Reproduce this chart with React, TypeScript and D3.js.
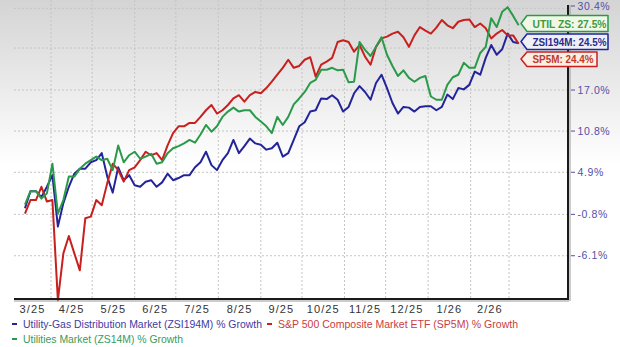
import React from 'react';
import * as d3 from 'd3';

// sampling of the series: every 4 calendar days from this start date
const START_DATE = new Date(2025, 2, 13);
const STEP_DAYS = 4;

const gasUtility = [
  0.0, 2.3, 2.3, 1.5, 2.9, 4.5, -2.4, 0.7, 2.9, 4.7, 5.4, 5.4, 6.3, 6.6, 7.6, 4.3,
  2.1, 5.6, 3.8, 4.5, 3.1, 2.9, 3.6, 3.8, 2.9, 3.5, 4.7, 3.8, 4.1, 4.5, 4.5, 5.6,
  6.3, 7.8, 5.9, 5.2, 6.6, 7.6, 9.5, 7.6, 8.6, 9.7, 9.0, 8.8, 8.1, 8.3, 9.1, 7.1,
  7.6, 9.5, 11.5, 12.1, 13.7, 13.9, 15.7, 15.6, 16.2, 15.5, 13.7, 14.4, 16.5, 17.6, 16.7, 15.5,
  18.1, 19.4, 17.3, 15.0, 13.4, 14.4, 14.3, 13.7, 14.4, 14.5, 14.5, 13.9, 14.4, 16.3, 15.6, 17.3,
  17.1, 17.8, 19.9, 19.4, 22.1, 24.2, 22.6, 23.5, 26.1, 24.7, 24.5,
];

const sp500 = [
  -0.7, 1.1, 1.1, 2.9, 0.9, 1.1, -11.5, -5.8, -3.6, -5.8, -7.9, -1.3, -1.1, 1.1, 0.4, 3.4,
  6.1, 5.2, 3.6, 5.2, 5.6, 6.6, 7.8, 7.3, 7.6, 6.6, 8.7, 10.5, 11.5, 11.5, 12.0, 12.0,
  12.9, 13.9, 14.7, 13.4, 13.9, 14.7, 15.7, 16.2, 15.2, 16.2, 16.7, 16.5, 17.3, 18.3, 19.4, 20.5,
  21.8, 20.5, 20.8, 21.8, 22.2, 19.1, 21.0, 21.5, 22.1, 24.7, 25.0, 24.7, 23.1, 24.2, 22.3, 21.0,
  23.9, 25.3, 25.6, 26.1, 26.4, 25.5, 23.9, 25.8, 27.2, 26.6, 26.1, 27.1, 28.4, 27.5, 27.0, 28.1,
  28.4, 28.5, 27.2, 27.8, 27.0, 25.3, 26.1, 26.7, 25.8, 25.8, 24.4,
];

const utilities = [
  0.5, 2.3, 2.3, 1.3, 2.0, 6.1, -0.7, 1.1, 4.3, 4.3, 5.4, 6.1, 6.6, 7.1, 6.6, 6.8,
  5.2, 8.7, 6.3, 7.3, 7.8, 6.8, 7.1, 7.5, 6.1, 6.3, 7.6, 8.3, 8.6, 9.0, 9.5, 9.1,
  10.3, 11.7, 10.7, 11.5, 12.9, 13.7, 14.3, 13.7, 13.9, 13.9, 12.9, 12.2, 11.5, 10.5, 12.9, 11.7,
  12.9, 14.8, 15.7, 16.7, 18.1, 18.6, 20.2, 20.2, 20.5, 20.1, 20.2, 18.2, 18.3, 24.7, 23.4, 22.4,
  23.9, 25.5, 22.6, 20.8, 19.2, 20.1, 18.9, 18.3, 18.9, 19.2, 16.0, 15.5, 15.5, 17.8, 19.0, 19.4,
  21.3, 20.5, 20.5, 22.9, 23.9, 28.7, 27.2, 29.8, 30.6, 29.1, 27.5,
];

const yTickValues = [-6.1, -0.8, 4.9, 10.8, 17.0, 30.4];
const yGridValues = [-6.1, -0.8, 4.9, 10.8, 17.0, 23.7, 30.4];

const seriesNames = [
  'Utility-Gas Distribution Market (ZSI194M) % Growth',
  'S&P 500 Composite Market ETF (SP5M) % Growth',
  'Utilities Market (ZS14M) % Growth',
];
const calloutTexts = ['UTIL ZS: 27.5%', 'ZSI194M: 24.5%', 'SP5M: 24.4%'];

const dates = gasUtility.map((_, i) => d3.timeDay.offset(START_DATE, i * STEP_DAYS));

const W = 620;
const H = 347;
const left = 14;
const right = 568;
const top = 0;
const bottom = 299;

const FONT = '"Liberation Sans", Arial, sans-serif';

const BLUE = '#23239a';
const RED = '#c8201e';
const GREEN = '#2a9a4a';

export default function App() {
  const x = d3
    .scaleTime()
    .domain([new Date(2025, 2, 5), new Date(2026, 3, 13)])
    .range([left, right]);
  const y = d3.scaleLog().base(Math.E).domain([0.8866, 1.3185]).range([bottom, top]);
  const yv = (v: number) => y(1 + v / 100);

  const line = d3
    .line<number>()
    .x((_, i) => x(dates[i]))
    .y((d) => yv(d));

  const monthStarts = d3.timeMonth.range(new Date(2025, 3, 1), new Date(2026, 2, 2));
  const labelMonths = d3.timeMonth.range(new Date(2025, 2, 1), new Date(2026, 2, 1));
  const fmt = d3.timeFormat('%-m/%y');

  const callouts = [
    { text: calloutTexts[0], tipY: 23.5, y0: 15.5, y1: 31.5, x1: 608, color: '#3f9a3f', stroke: GREEN, fill: '#f1f7e6', len: 74 },
    { text: calloutTexts[1], tipY: 41.5, y0: 34, y1: 49.5, x1: 608, color: '#2b2b8f', stroke: BLUE, fill: '#eef0f6', len: 74 },
    { text: calloutTexts[2], tipY: 59, y0: 52, y1: 66.5, x1: 597, color: '#c03a2a', stroke: RED, fill: '#fbeee3', len: 61 },
  ];

  return (
    <svg
      width={W}
      height={H}
      style={{ position: 'absolute', left: 0, top: 0, background: '#fff' }}
      fontFamily={FONT}
    >
      <defs>
        <linearGradient id="bg" x1="0" y1="0" x2="0" y2="1">
          <stop offset="0" stopColor="#d4d4d4" />
          <stop offset="0.55" stopColor="#ffffff" />
          <stop offset="1" stopColor="#ffffff" />
        </linearGradient>
      </defs>
      <rect x={0} y={0} width={W} height={300} fill="url(#bg)" />

      {/* grid */}
      {yGridValues.map((v) => (
        <line key={'h' + v} x1={left} x2={right} y1={yv(v)} y2={yv(v)} stroke="#c4c4c4" strokeDasharray="2,2" />
      ))}
      {monthStarts.map((m) => (
        <line key={'v' + m.getTime()} x1={x(m)} x2={x(m)} y1={top} y2={bottom} stroke="#c4c4c4" strokeDasharray="2,2" />
      ))}

      {/* series */}
      <path d={line(gasUtility) || ''} fill="none" stroke={BLUE} strokeWidth={2} strokeLinejoin="round" />
      <path d={line(sp500) || ''} fill="none" stroke={RED} strokeWidth={2} strokeLinejoin="round" />
      <path d={line(utilities) || ''} fill="none" stroke={GREEN} strokeWidth={2} strokeLinejoin="round" />

      {/* axes */}
      <line x1={right + 2} x2={right + 2} y1={5} y2={bottom + 2} stroke="#999" strokeWidth={1} />
      <line x1={right} x2={right} y1={5} y2={bottom} stroke="#1a1a1a" strokeWidth={2} />
      <line x1={left} x2={right + 1} y1={bottom + 2} y2={bottom + 2} stroke="#999" strokeWidth={1.2} />
      <line x1={left} x2={right + 1} y1={bottom} y2={bottom} stroke="#1a1a1a" strokeWidth={2.2} />

      {yTickValues.map((v) => {
        const yy = v === 30.4 ? 6 : yv(v);
        return (
          <g key={'t' + v}>
            <line x1={571} x2={575} y1={yy} y2={yy} stroke="#5050a8" strokeWidth={1} />
            <text x={577.5} y={yy + 3.6} fontSize={10.5} fill="#5050a8" letterSpacing={0.6}>
              {v.toFixed(1) + '%'}
            </text>
          </g>
        );
      })}

      {labelMonths.map((m) => {
        const a = Math.max(x(m), left);
        const b = x(d3.timeMonth.offset(m, 1));
        return (
          <text key={'x' + m.getTime()} x={(a + b) / 2} y={313} fontSize={11} fill="#333" textAnchor="middle" letterSpacing={1.1}>
            {fmt(m)}
          </text>
        );
      })}

      {/* legend */}
      <line x1={12} x2={17} y1={324} y2={324} stroke={BLUE} strokeWidth={2} />
      <text x={23} y={327.5} fontSize={10.5} fill="#3c3ca2" textLength={239} lengthAdjust="spacingAndGlyphs">
        {seriesNames[0]}
      </text>
      <line x1={267} x2={272} y1={324} y2={324} stroke={RED} strokeWidth={2} />
      <text x={278} y={327.5} fontSize={10.5} fill="#c84040" textLength={240} lengthAdjust="spacingAndGlyphs">
        {seriesNames[1]}
      </text>
      <line x1={12} x2={17} y1={339} y2={339} stroke={GREEN} strokeWidth={2} />
      <text x={23} y={342.5} fontSize={10.5} fill="#3a9a5a" textLength={160} lengthAdjust="spacingAndGlyphs">
        {seriesNames[2]}
      </text>

      {/* callouts */}
      {callouts.map((c) => (
        <g key={c.text}>
          <path
            d={`M${521},${c.tipY} L${527},${c.y0} L${c.x1},${c.y0} L${c.x1},${c.y1} L${527},${c.y1} Z`}
            fill={c.fill}
            stroke={c.stroke}
            strokeWidth={1.5}
            strokeLinejoin="round"
          />
          <text
            x={532.5}
            y={(c.y0 + c.y1) / 2 + 4}
            fontSize={11}
            fontWeight="bold"
            fill={c.color}
            textLength={c.len}
            lengthAdjust="spacingAndGlyphs"
          >
            {c.text}
          </text>
        </g>
      ))}
    </svg>
  );
}
